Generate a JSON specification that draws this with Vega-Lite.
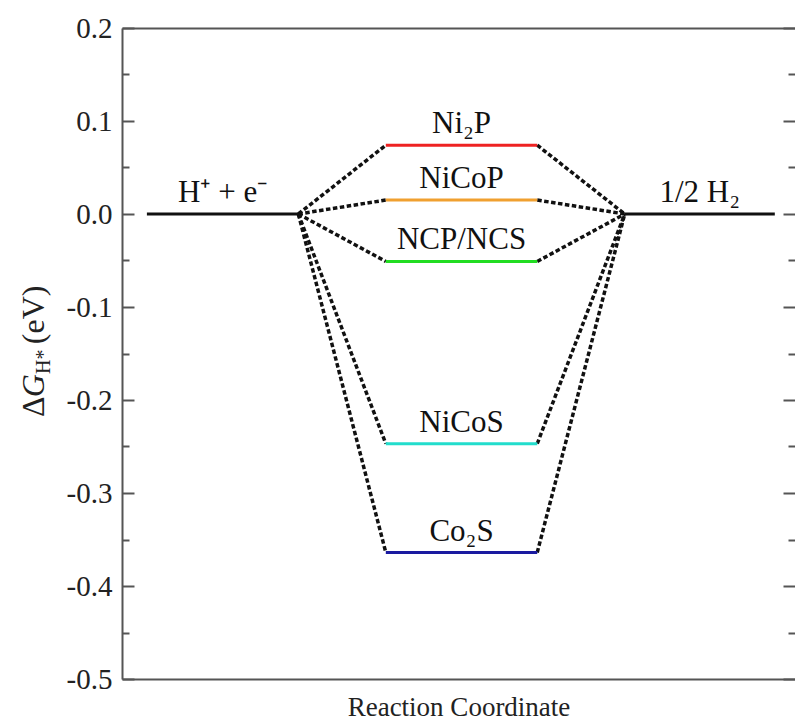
{
  "$schema": "https://vega.github.io/schema/vega-lite/v6.json",
  "width": 673,
  "height": 651,
  "autosize": {"type": "none"},
  "padding": {"left": 122, "top": 28, "right": 0, "bottom": 47},
  "background": "white",
  "config": {
    "view": {"stroke": null},
    "font": "Liberation Serif",
    "axis": {
      "domainColor": "#555555",
      "domainWidth": 2,
      "tickColor": "#555555",
      "tickWidth": 2,
      "grid": false,
      "labelFont": "Liberation Serif",
      "titleFont": "Liberation Serif",
      "labelColor": "#222222",
      "titleColor": "#222222"
    }
  },
  "datasets": {
    "levels": [
      {"species": "H⁺ + e⁻", "start": 0.37, "end": 2.62, "dG": 0},
      {"species": "Ni₂P", "start": 3.92, "end": 6.17, "dG": 0.074},
      {"species": "NiCoP", "start": 3.92, "end": 6.17, "dG": 0.015},
      {"species": "NCP/NCS", "start": 3.92, "end": 6.17, "dG": -0.051},
      {"species": "NiCoS", "start": 3.92, "end": 6.17, "dG": -0.247},
      {"species": "Co₂S", "start": 3.92, "end": 6.17, "dG": -0.364},
      {"species": "1/2 H₂", "start": 7.47, "end": 9.7, "dG": 0}
    ],
    "connectors": [
      {"species": "Ni₂P", "x_from": 2.62, "dG_from": 0, "x_to": 3.92, "dG_to": 0.074},
      {"species": "NiCoP", "x_from": 2.62, "dG_from": 0, "x_to": 3.92, "dG_to": 0.015},
      {"species": "NCP/NCS", "x_from": 2.62, "dG_from": 0, "x_to": 3.92, "dG_to": -0.051},
      {"species": "NiCoS", "x_from": 2.62, "dG_from": 0, "x_to": 3.92, "dG_to": -0.247},
      {"species": "Co₂S", "x_from": 2.62, "dG_from": 0, "x_to": 3.92, "dG_to": -0.364},
      {"species": "Ni₂P", "x_from": 6.17, "dG_from": 0.074, "x_to": 7.47, "dG_to": 0},
      {"species": "NiCoP", "x_from": 6.17, "dG_from": 0.015, "x_to": 7.47, "dG_to": 0},
      {"species": "NCP/NCS", "x_from": 6.17, "dG_from": -0.051, "x_to": 7.47, "dG_to": 0},
      {"species": "NiCoS", "x_from": 6.17, "dG_from": -0.247, "x_to": 7.47, "dG_to": 0},
      {"species": "Co₂S", "x_from": 6.17, "dG_from": -0.364, "x_to": 7.47, "dG_to": 0}
    ]
  },
  "resolve": {"axis": {"x": "independent", "y": "independent"}},
  "layer": [
    {
      "data": {"name": "connectors"},
      "mark": {"type": "rule", "strokeWidth": 3.5, "strokeDash": [4.5, 2.5], "color": "#111111"},
      "encoding": {
        "x": {
          "field": "x_from", "type": "quantitative",
          "scale": {"domain": [0, 10]},
          "axis": {"orient": "top", "ticks": false, "labels": false, "title": null}
        },
        "x2": {"field": "x_to"},
        "y": {
          "field": "dG_from", "type": "quantitative",
          "scale": {"domain": [-0.5, 0.2]},
          "axis": {
            "orient": "right", "title": null, "labels": false, "domain": false,
            "values": [0.2, 0.15, 0.1, 0.05, 0, -0.05, -0.1, -0.15, -0.2, -0.25, -0.3, -0.35, -0.4, -0.45, -0.5],
            "tickSize": {"condition": {"test": "abs(datum.value*10-round(datum.value*10))<0.001", "value": -12}, "value": -7}
          }
        },
        "y2": {"field": "dG_to"}
      }
    },
    {
      "data": {"name": "levels"},
      "mark": {"type": "rule", "strokeWidth": 3},
      "encoding": {
        "x": {
          "field": "start", "type": "quantitative",
          "axis": {"orient": "bottom", "ticks": false, "labels": false, "title": "Reaction Coordinate", "titleFont": "Liberation Serif", "titleFontSize": 27, "titleFontWeight": "normal", "titlePadding": 15}
        },
        "x2": {"field": "end"},
        "y": {
          "field": "dG", "type": "quantitative",
          "axis": {
            "orient": "left", "title": null,
            "values": [0.2, 0.15, 0.1, 0.05, 0, -0.05, -0.1, -0.15, -0.2, -0.25, -0.3, -0.35, -0.4, -0.45, -0.5],
            "labelExpr": "abs(datum.value*10-round(datum.value*10))<0.001 ? (datum.value < -0.001 ? '-' : '') + format(abs(datum.value),'.1f') : ''",
            "tickSize": {"condition": {"test": "abs(datum.value*10-round(datum.value*10))<0.001", "value": -12}, "value": -7},
            "labelPadding": 22,
            "labelFont": "Liberation Serif",
            "labelFontSize": 29,
            "labelFlush": false,
            "labelOverlap": false
          }
        },
        "color": {
          "field": "species", "type": "nominal",
          "scale": {
            "domain": ["H⁺ + e⁻", "Ni₂P", "NiCoP", "NCP/NCS", "NiCoS", "Co₂S", "1/2 H₂"],
            "range": ["#111111", "#ee2222", "#f0a030", "#22dd22", "#22ddcc", "#1a1aa0", "#111111"]
          },
          "legend": null
        }
      }
    },
    {
      "data": {"name": "levels"},
      "transform": [{"calculate": "(datum.start + datum.end) / 2", "as": "mid"}],
      "mark": {"type": "text", "fontSize": 31, "baseline": "alphabetic", "align": "center", "dy": -12, "color": "#111111"},
      "encoding": {
        "x": {"field": "mid", "type": "quantitative", "axis": null},
        "y": {"field": "dG", "type": "quantitative", "axis": null},
        "text": {"field": "species"}
      }
    },
    {
      "data": {"values": [{}]},
      "mark": {"type": "text", "text": "Δ", "fontSize": 32, "angle": 270, "align": "left", "baseline": "alphabetic", "color": "#222222"},
      "encoding": {
        "x": {"datum": -1.16, "type": "quantitative", "axis": null},
        "y": {"datum": -0.2183, "type": "quantitative", "axis": null}
      }
    },
    {
      "data": {"values": [{}]},
      "mark": {"type": "text", "text": "G", "fontSize": 32, "fontStyle": "italic", "angle": 270, "align": "left", "baseline": "alphabetic", "color": "#222222"},
      "encoding": {
        "x": {"datum": -1.16, "type": "quantitative", "axis": null},
        "y": {"datum": -0.197, "type": "quantitative", "axis": null}
      }
    },
    {
      "data": {"values": [{}]},
      "mark": {"type": "text", "text": "H*", "fontSize": 20, "angle": 270, "align": "left", "baseline": "alphabetic", "color": "#222222"},
      "encoding": {
        "x": {"datum": -1.07, "type": "quantitative", "axis": null},
        "y": {"datum": -0.172, "type": "quantitative", "axis": null}
      }
    },
    {
      "data": {"values": [{}]},
      "mark": {"type": "text", "text": "(eV)", "fontSize": 32, "angle": 270, "align": "left", "baseline": "alphabetic", "color": "#222222"},
      "encoding": {
        "x": {"datum": -1.16, "type": "quantitative", "axis": null},
        "y": {"datum": -0.14, "type": "quantitative", "axis": null}
      }
    }
  ]
}
